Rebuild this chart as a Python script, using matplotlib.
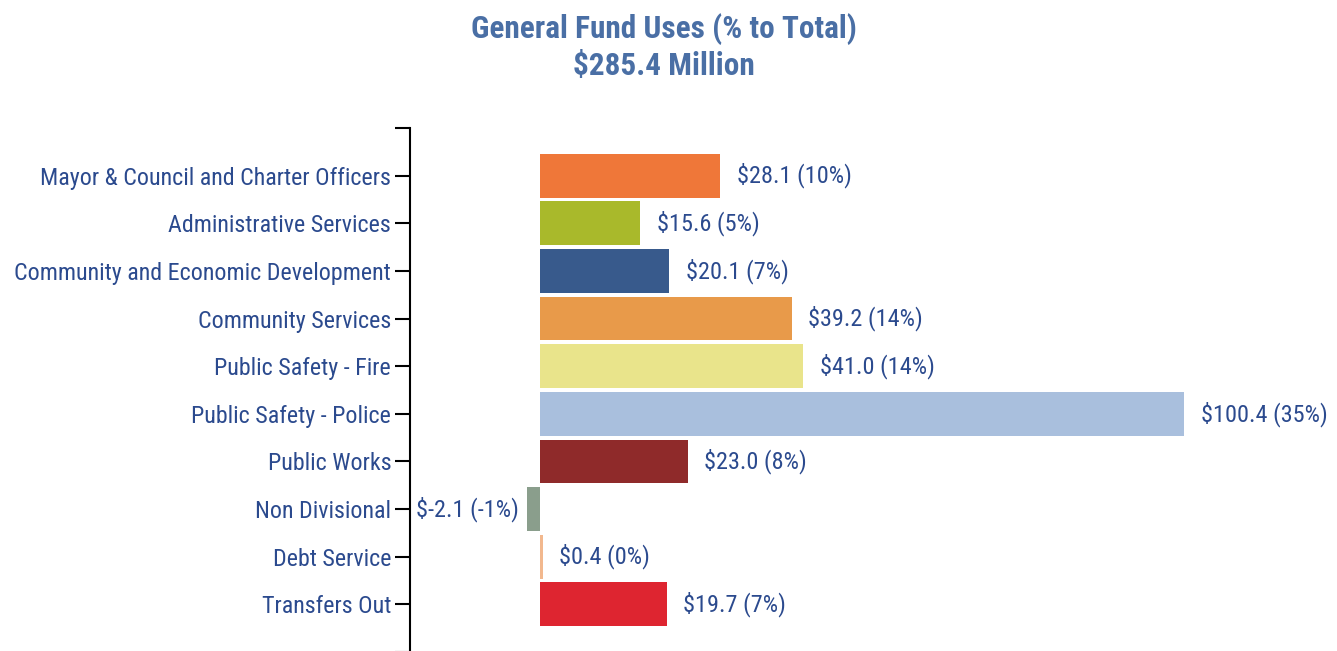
import matplotlib
matplotlib.use("Agg")
import matplotlib.pyplot as plt

plt.rcParams['font.family'] = ['Roboto Condensed', 'DejaVu Sans']
plt.rcParams['font.stretch'] = 'condensed'

categories = [
    "Mayor & Council and Charter Officers",
    "Administrative Services",
    "Community and Economic Development",
    "Community Services",
    "Public Safety - Fire",
    "Public Safety - Police",
    "Public Works",
    "Non Divisional",
    "Debt Service",
    "Transfers Out",
]
values = [28.1, 15.6, 20.1, 39.2, 41.0, 100.4, 23.0, -2.1, 0.4, 19.7]
percents = [10, 5, 7, 14, 14, 35, 8, -1, 0, 7]
colors = ["#ef7739", "#a9b92b", "#385a8c", "#e89a4a", "#e9e48b",
          "#a9bfdd", "#8f2a2a", "#8a9e8c", "#f2b88e", "#de2530"]

label_color = "#2b4a8e"
title_color = "#4a6fa5"

fig = plt.figure(figsize=(13.37, 6.51), dpi=100)
ax = fig.add_axes([410 / 1337, -0.0015, 927 / 1337, 0.8049])

pos = list(range(len(categories)))
ax.barh(pos, values, height=0.92, color=colors)

for y, v, p in zip(pos, values, percents):
    txt = f"${v:.1f} ({p}%)"
    if v < 0:
        ax.annotate(txt, (v, y), xytext=(-6, 0), textcoords="offset points",
                    ha="right", va="center", fontsize=17.5, color=label_color)
    else:
        ax.annotate(txt, (v, y), xytext=(12, 0), textcoords="offset points",
                    ha="left", va="center", fontsize=17.5, color=label_color)

ax.set_xlim(-20.3, 124.2)
ax.set_ylim(10, -1)
ax.set_yticks(range(-1, 11))
ax.set_yticklabels([""] + categories + [""], fontsize=17.3, color=label_color)
ax.tick_params(axis="y", length=10.5, width=1.5, color="black", pad=3)
ax.set_xticks([])
for s in ["top", "right", "bottom"]:
    ax.spines[s].set_visible(False)
ax.spines["left"].set_linewidth(1.5)

fig.text(0.4966, 0.956, "General Fund Uses (% to Total)", ha="center", va="center",
         fontsize=22.5, fontweight="bold", color=title_color)
fig.text(0.4966, 0.899, "$285.4 Million", ha="center", va="center",
         fontsize=22.5, fontweight="bold", color=title_color)

fig.savefig("out.png", dpi=100)
